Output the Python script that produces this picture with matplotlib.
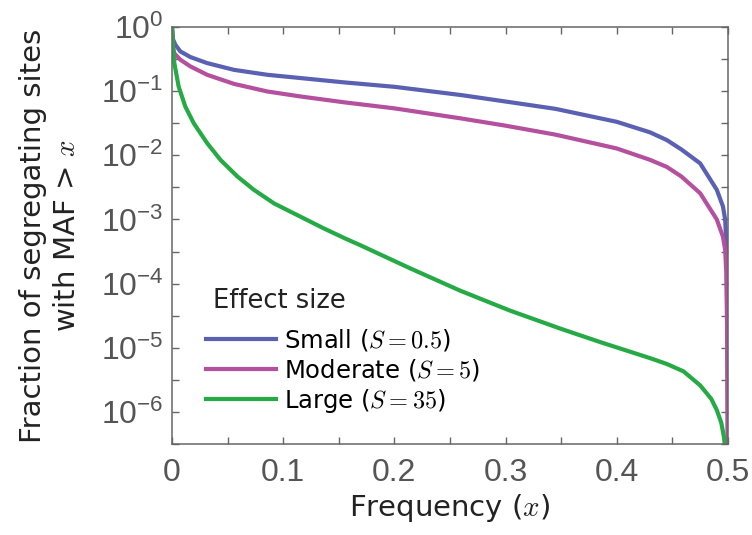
import numpy as np
import matplotlib
matplotlib.use("Agg")
import matplotlib.pyplot as plt
from matplotlib.ticker import FixedLocator, LogFormatterSciNotation

plt.rcParams['mathtext.fontset'] = 'cm'

# values (fraction of sites with MAF > x)
x_small = [0, 0.001, 0.003, 0.0075, 0.0166, 0.0316, 0.0557, 0.0858, 0.1158, 0.155,
           0.20, 0.26, 0.30, 0.345, 0.40, 0.43, 0.445, 0.458, 0.475, 0.49, 0.4955,
           0.4975, 0.499, 0.5]
y_small = [1.0, 0.64, 0.53, 0.417, 0.34, 0.274, 0.215, 0.18, 0.16, 0.137,
           0.117, 0.087, 0.069, 0.053, 0.0333, 0.0228, 0.0173, 0.0124, 0.0075, 0.0029, 0.0016,
           0.001, 0.0003, 1e-7]

x_moderate = [0, 0.0008, 0.002, 0.0075, 0.0166, 0.0316, 0.0557, 0.0858, 0.1158, 0.155,
              0.20, 0.26, 0.30, 0.345, 0.40, 0.43, 0.445, 0.458, 0.475, 0.49, 0.4955,
              0.4975, 0.4985, 0.4995, 0.5]
y_moderate = [1.0, 0.5, 0.39, 0.309, 0.243, 0.18, 0.13, 0.0989, 0.0826, 0.067,
              0.054, 0.0376, 0.029, 0.021, 0.0128, 0.0085, 0.0066, 0.0047, 0.00257, 0.001, 5.4e-4,
              3.4e-4, 1.5e-4, 1e-5, 1e-7]

x_large = [0, 0.0005, 0.0021, 0.006, 0.012, 0.0196, 0.0316, 0.0436, 0.0587, 0.0737,
           0.0918, 0.1158, 0.137, 0.1564, 0.169, 0.214, 0.259, 0.304, 0.349, 0.385,
           0.43, 0.445, 0.46, 0.475, 0.485, 0.49, 0.494, 0.4965, 0.5]
y_large = [1.0, 0.6, 0.274, 0.118, 0.0575, 0.0316, 0.0155, 0.0085, 0.0047, 0.0029,
           0.00178, 0.0011, 7.2e-4, 5.0e-4, 4.0e-4, 1.74e-4, 7.8e-5, 3.8e-5, 2.0e-5, 1.23e-5,
           6.9e-6, 5.6e-6, 4.3e-6, 2.6e-6, 1.6e-6, 1.07e-6, 6.8e-7, 4.0e-7, 1e-7]

labels = ['Small ($S = 0.5$)', 'Moderate ($S = 5$)', 'Large ($S = 35$)']
colors = ['#5a60b2', '#b5509e', '#26aa46']
text_font = 'DejaVu Sans'

x_major = [0, 0.1, 0.2, 0.3, 0.4, 0.5]
x_minor = [0.05, 0.15, 0.25, 0.35, 0.45]
y_major = [1, 1e-1, 1e-2, 1e-3, 1e-4, 1e-5, 1e-6]
y_minor = [10 ** (-k - 0.5) for k in range(7)]

fig = plt.figure(figsize=(7.52, 5.35), dpi=100)
ax = fig.add_axes([0.2287, 0.170, 0.7393, 0.7795])

ax.plot(x_small, y_small, color=colors[0], lw=3.0, label=labels[0])
ax.plot(x_moderate, y_moderate, color=colors[1], lw=3.0, label=labels[1])
ax.plot(x_large, y_large, color=colors[2], lw=3.0, label=labels[2])

ax.set_yscale('log')
ax.set_xlim(0, 0.5)
ax.set_ylim(10 ** -6.5, 1)

ax.xaxis.set_major_locator(FixedLocator(x_major))
ax.xaxis.set_minor_locator(FixedLocator(x_minor))
ax.xaxis.set_major_formatter(plt.FuncFormatter(lambda v, p: '0' if v == 0 else f'{v:.1f}'))
ax.yaxis.set_major_locator(FixedLocator(y_major))
ax.yaxis.set_major_formatter(LogFormatterSciNotation())
ax.yaxis.set_minor_locator(FixedLocator(y_minor))
ax.yaxis.set_minor_formatter(plt.NullFormatter())

for spine in ax.spines.values():
    spine.set_color('#666666')
    spine.set_linewidth(1.1)
ax.tick_params(which='both', direction='in', top=True, right=True, length=5,
               width=1.0, color='#666666', labelcolor='#555555', labelsize=23)
ax.tick_params(axis='x', pad=10)
ax.tick_params(axis='y', pad=6)
for lab in ax.get_xticklabels() + ax.get_yticklabels():
    lab.set_family('Liberation Sans')

ax.set_xlabel('Frequency ($x$)', fontsize=21, family=text_font, color='#222222', labelpad=3)
ax.set_ylabel('Fraction of segregating sites\nwith MAF > $x$', fontsize=21,
              family=text_font, color='#222222', labelpad=14, linespacing=1.3)

ax.text(0.074, 0.343, 'Effect size', transform=ax.transAxes, fontsize=18.5,
        family=text_font, color='#222222', va='center', ha='left')
leg = ax.legend(loc='upper left', bbox_to_anchor=(0.062, 0.281), frameon=False,
                handlelength=2.85, handletextpad=0.33, labelspacing=0.16,
                borderaxespad=0, borderpad=0,
                prop={'family': text_font, 'size': 17.5})

fig.savefig('out.png', dpi=100)
